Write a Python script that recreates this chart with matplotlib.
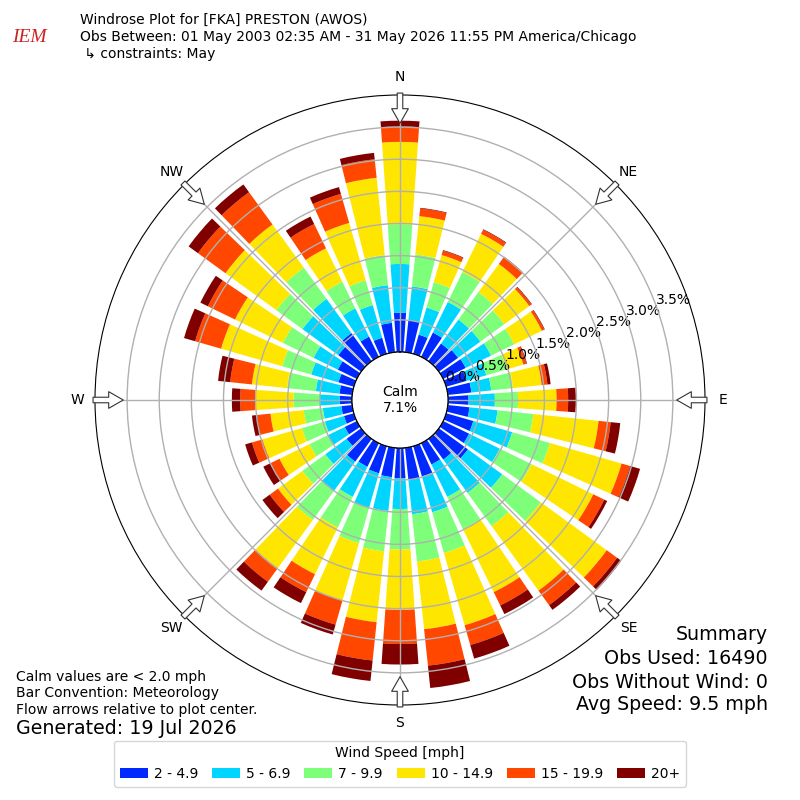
import numpy as np
import matplotlib
matplotlib.use("Agg")
import matplotlib.pyplot as plt
from matplotlib.patches import Patch

# ---------------- data ----------------
directions = np.arange(0, 360, 10)  # degrees, meteorological
speed_labels = ["2 - 4.9", "5 - 6.9", "7 - 9.9", "10 - 14.9", "15 - 19.9", "20+"]

# frequency (%) per direction for each speed class
freq_2_5 = [0.61, 0.50, 0.31, 0.42, 0.34, 0.37, 0.39, 0.33, 0.37, 0.32, 0.34, 0.44,
            0.45, 0.56, 0.40, 0.37, 0.49, 0.51, 0.47, 0.46, 0.44, 0.41, 0.44, 0.28,
            0.21, 0.16, 0.17, 0.19, 0.20, 0.25, 0.33, 0.44, 0.54, 0.35, 0.26, 0.46]
freq_5_7 = [0.76, 0.53, 0.44, 0.53, 0.46, 0.43, 0.44, 0.32, 0.31, 0.41, 0.44, 0.63,
            0.53, 0.66, 0.64, 0.56, 0.58, 0.53, 0.48, 0.53, 0.56, 0.52, 0.57, 0.41,
            0.30, 0.31, 0.29, 0.31, 0.37, 0.44, 0.42, 0.69, 0.66, 0.49, 0.53, 0.59]
freq_7_10 = [0.62, 0.50, 0.41, 0.52, 0.53, 0.46, 0.40, 0.33, 0.34, 0.36, 0.56, 0.61,
             0.55, 0.74, 0.64, 0.56, 0.66, 0.74, 0.63, 0.63, 0.57, 0.53, 0.55, 0.44,
             0.31, 0.37, 0.30, 0.41, 0.45, 0.47, 0.53, 0.50, 0.60, 0.46, 0.40, 0.47]
freq_10_15 = [1.28, 0.60, 0.44, 0.66, 0.54, 0.48, 0.48, 0.27, 0.45, 0.60, 1.02, 1.16,
              1.07, 1.27, 1.24, 1.09, 1.17, 1.06, 0.94, 1.11, 0.93, 0.81, 0.93, 0.47,
              0.52, 0.64, 0.52, 0.60, 0.55, 0.99, 0.83, 0.98, 0.83, 0.58, 0.93, 1.21]
freq_15_20 = [0.24, 0.12, 0.07, 0.07, 0.13, 0.04, 0.04, 0.05, 0.09, 0.18, 0.19, 0.14,
              0.19, 0.20, 0.28, 0.23, 0.32, 0.57, 0.53, 0.60, 0.39, 0.31, 0.26, 0.16,
              0.15, 0.17, 0.21, 0.23, 0.34, 0.42, 0.47, 0.53, 0.62, 0.42, 0.47, 0.29]
freq_20p = [0.09, 0.01, 0.01, 0.01, 0.01, 0.01, 0.01, 0.01, 0.05, 0.12, 0.15, 0.16,
            0.05, 0.08, 0.09, 0.15, 0.22, 0.35, 0.32, 0.32, 0.16, 0.19, 0.17, 0.14,
            0.13, 0.11, 0.08, 0.13, 0.19, 0.18, 0.13, 0.18, 0.15, 0.13, 0.11, 0.10]
series = [freq_2_5, freq_5_7, freq_7_10, freq_10_15, freq_15_20, freq_20p]

calm_pct = 7.1
rticks = [0.0, 0.5, 1.0, 1.5, 2.0, 2.5, 3.0, 3.5]
compass_angles = [0, 45, 90, 135, 180, 225, 270, 315]
compass_labels = ["N", "NE", "E", "SE", "S", "SW", "W", "NW"]

colors = plt.get_cmap("jet")(np.linspace(0, 1, 7)[1:])

# ---------------- figure ----------------
fig = plt.figure(figsize=(8, 8), dpi=100)
ax = fig.add_axes([95 / 800, 95 / 800, 610 / 800, 610 / 800], projection="polar")
ax.set_theta_zero_location("N")
ax.set_theta_direction(-1)
ax.set_ylim(0, 4.0)
ax.set_rorigin(-0.747)

theta = np.radians(directions)
width = np.radians(8.0)
bottom = np.zeros(len(directions))
for vals, col in zip(series, colors):
    vals = np.asarray(vals)
    ax.bar(theta, vals, width=width, bottom=bottom, color=col, edgecolor="none",
           align="center", zorder=1)
    bottom = bottom + vals

# grid
ax.set_yticks(rticks)
ax.set_yticklabels([f"{v:.1f}%" for v in rticks], fontsize=10)
ax.set_rlabel_position(70)
ax.set_xticks(np.radians(compass_angles))
ax.set_xticklabels(compass_labels, fontsize=10)
ax.xaxis.set_tick_params(pad=2.5)
ax.grid(True, color="#b0b0b0", linewidth=1.0)

# calm circle
tt = np.linspace(0, 2 * np.pi, 361)
ax.plot(tt, np.zeros_like(tt), color="black", linewidth=1.0, zorder=3)
ax.text(0.5, 0.5, f"Calm\n{calm_pct:.1f}%", transform=ax.transAxes, ha="center",
        va="center", fontsize=10, zorder=4)

# flow arrows
for a in compass_angles:
    ax.annotate("", xy=(np.radians(a), 3.56), xytext=(np.radians(a), 4.03),
                xycoords="data", textcoords="data", annotation_clip=False,
                arrowprops=dict(arrowstyle="simple,head_length=1.05,head_width=1.2,tail_width=0.4",
                                mutation_scale=10, fc="white", ec="#333333", lw=0.8,
                                shrinkA=0, shrinkB=0), zorder=5)

# ---------------- texts ----------------
fig.text(0.1, 1 - 20 / 800, "Windrose Plot for [FKA] PRESTON (AWOS)", fontsize=10, va="center")
fig.text(0.1, 1 - 37 / 800, "Obs Between: 01 May 2003 02:35 AM - 31 May 2026 11:55 PM America/Chicago",
         fontsize=10, va="center")
fig.text(0.1, 1 - 54 / 800, " \u21b3 constraints: May", fontsize=10, va="center")

# logo (approximation)
fig.text(29 / 800, 1 - 38 / 800, "IEM", fontsize=14, color="#cc2222", style="italic",
         family="Liberation Serif", ha="center", va="center")

fig.text(16 / 800, 1 - 677 / 800, "Calm values are < 2.0 mph", fontsize=10, va="center")
fig.text(16 / 800, 1 - 693 / 800, "Bar Convention: Meteorology", fontsize=10, va="center")
fig.text(16 / 800, 1 - 710 / 800, "Flow arrows relative to plot center.", fontsize=10, va="center")
fig.text(16 / 800, 1 - 729 / 800, "Generated: 19 Jul 2026", fontsize=13.7, va="center")

fig.text(768 / 800, 1 - 635 / 800, "Summary", fontsize=13.7, ha="right", va="center")
fig.text(768 / 800, 1 - 659 / 800, "Obs Used: 16490", fontsize=13.7, ha="right", va="center")
fig.text(768 / 800, 1 - 682 / 800, "Obs Without Wind: 0", fontsize=13.7, ha="right", va="center")
fig.text(768 / 800, 1 - 705 / 800, "Avg Speed: 9.5 mph", fontsize=13.7, ha="right", va="center")

handles = [Patch(facecolor=c, edgecolor="none") for c in colors]
fig.legend(handles, speed_labels, loc="lower center", bbox_to_anchor=(0.5, 0.008),
           ncol=6, title="Wind Speed [mph]", fontsize=10, title_fontsize=10,
           columnspacing=1.0, handletextpad=0.45)

fig.savefig("out.png", dpi=100)
